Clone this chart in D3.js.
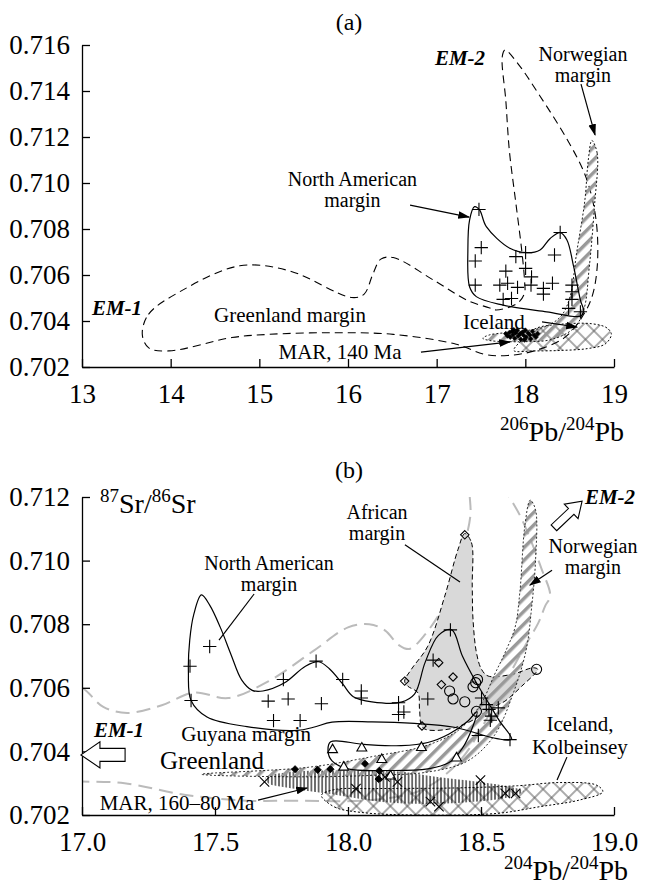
<!DOCTYPE html>
<html>
<head>
<meta charset="utf-8">
<script src="https://cdn.jsdelivr.net/npm/d3@7"></script>
<style>
  body { margin: 0; background: #fff; }
  svg { display: block; font-family: "Liberation Serif", "Times New Roman", serif; }
</style>
</head>
<body>
<div id="chart-area"></div>
<script>
// ---------- axes ----------
const xTicksA = [13, 14, 15, 16, 17, 18, 19]
const yTicksA = [0.702, 0.704, 0.706, 0.708, 0.710, 0.712, 0.714, 0.716]
const xTicksB = [17.0, 17.5, 18.0, 18.5, 19.0]
const yTicksB = [0.702, 0.704, 0.706, 0.708, 0.710, 0.712]

// ---------- panel (a): fields (206Pb/204Pb, 87Sr/86Sr) ----------
const greenlandFieldA = [
  [13.68, 0.70342], [13.75, 0.70429], [14.12, 0.70531], [14.78, 0.70640], [15.34, 0.70618],
  [16.04, 0.70502], [16.18, 0.70516], [16.28, 0.70603], [16.37, 0.70669], [16.51, 0.70676],
  [16.98, 0.70574], [17.36, 0.70487], [17.59, 0.70458], [17.67, 0.70448], [17.91, 0.70477],
  [17.99, 0.70520], [17.99, 0.70580], [17.96, 0.70705], [17.89, 0.70922], [17.82, 0.71140],
  [17.78, 0.71358], [17.74, 0.71550], [17.77, 0.71578], [17.92, 0.71517], [18.15, 0.71387],
  [18.48, 0.71184], [18.67, 0.71039], [18.76, 0.70922], [18.81, 0.70792], [18.81, 0.70632],
  [18.76, 0.70516], [18.67, 0.70436], [18.45, 0.70330], [18.10, 0.70270], [17.80, 0.70250],
  [17.54, 0.70255], [17.22, 0.70299], [16.51, 0.70342], [15.81, 0.70349], [15.11, 0.70342],
  [14.69, 0.70328], [13.98, 0.70270], [13.75, 0.70284]
]
const northAmericanFieldA = [
  [17.427, 0.70897], [17.485, 0.70882], [17.56, 0.70810], [17.825, 0.70716], [18.015, 0.70697],
  [18.166, 0.70709], [18.28, 0.70759], [18.393, 0.70784], [18.469, 0.70752], [18.545, 0.70636],
  [18.621, 0.70491], [18.659, 0.70440], [18.621, 0.70421], [18.242, 0.70440], [17.75, 0.70469],
  [17.447, 0.70506], [17.371, 0.70549], [17.352, 0.70709], [17.371, 0.70839]
]
const norwegianFieldA = [
  [18.75, 0.71185], [18.81, 0.71130], [18.78, 0.70900], [18.72, 0.70630], [18.66, 0.70450],
  [18.55, 0.70370], [18.30, 0.70320], [17.95, 0.70310], [17.60, 0.70315], [17.52, 0.70325],
  [17.60, 0.70340], [17.95, 0.70355], [18.22, 0.70375], [18.40, 0.70420], [18.50, 0.70500],
  [18.58, 0.70700], [18.67, 0.70920], [18.71, 0.71100]
]
const icelandFieldA = [
  [17.87, 0.70272], [18.00, 0.70330], [18.12, 0.70368], [18.40, 0.70386], [18.75, 0.70388],
  [18.92, 0.70370], [18.97, 0.70342], [18.90, 0.70300], [18.70, 0.70280], [18.40, 0.70272],
  [18.10, 0.70270]
]
const northAmericanPointsA = [
  [17.477, 0.70885], [17.503, 0.70719], [17.435, 0.70661], [17.435, 0.70556], [17.893, 0.70680],
  [17.78, 0.70617], [18.003, 0.70697], [18.003, 0.70629], [18.07, 0.70592], [17.712, 0.70556],
  [17.80, 0.70564], [17.912, 0.70546], [18.064, 0.70556], [18.204, 0.70542], [18.306, 0.70564],
  [18.204, 0.70517], [18.329, 0.70687], [18.393, 0.70785], [17.75, 0.70494], [17.844, 0.70498],
  [18.526, 0.70556], [18.526, 0.70527], [18.526, 0.70494], [18.488, 0.70455], [18.621, 0.70440]
]
const marPointsA = [
  [17.78, 0.70345], [17.80, 0.70335], [17.82, 0.70350], [17.83, 0.70330], [17.85, 0.70355],
  [17.86, 0.70340], [17.88, 0.70325], [17.89, 0.70348], [17.91, 0.70360], [17.92, 0.70335],
  [17.94, 0.70345], [17.95, 0.70320], [17.97, 0.70352], [17.98, 0.70338], [18.00, 0.70360],
  [18.01, 0.70330], [18.03, 0.70348], [18.05, 0.70340], [18.06, 0.70322], [18.08, 0.70355],
  [18.10, 0.70338], [18.12, 0.70330], [18.14, 0.70345], [17.87, 0.70362], [17.99, 0.70318]
]

// ---------- panel (b): fields ----------
const greenlandFieldB = [
  [16.90, 0.70620], [17.00, 0.70600], [17.08, 0.70540], [17.17, 0.70521], [17.30, 0.70545],
  [17.42, 0.70585], [17.55, 0.70568], [17.70, 0.70620], [17.87, 0.70716], [18.00, 0.70790],
  [18.08, 0.70800], [18.14, 0.70780], [18.19, 0.70735], [18.23, 0.70722], [18.29, 0.70768],
  [18.37, 0.70874], [18.43, 0.71030], [18.46, 0.71140], [18.46, 0.71250], [18.52, 0.71350],
  [18.58, 0.71240], [18.653, 0.71131], [18.728, 0.70973], [18.76, 0.70889], [18.741, 0.70857],
  [18.716, 0.70805], [18.665, 0.70731], [18.60, 0.70630], [18.52, 0.70500], [18.42, 0.70370],
  [18.28, 0.70280], [18.10, 0.70248], [17.78, 0.70245], [17.62, 0.70245], [17.39, 0.70263],
  [17.16, 0.70300], [17.00, 0.70305], [16.90, 0.70305]
]
const northAmericanFieldB = [
  [17.449, 0.70892], [17.48, 0.70860], [17.52, 0.70790], [17.56, 0.70705], [17.60, 0.70625],
  [17.64, 0.70592], [17.68, 0.70590], [17.76, 0.70615], [17.84, 0.70668], [17.89, 0.70682],
  [17.93, 0.70660], [17.98, 0.70612], [18.02, 0.70572], [18.09, 0.70556], [18.20, 0.70555],
  [18.25, 0.70580], [18.29, 0.70680], [18.34, 0.70765], [18.39, 0.70782], [18.43, 0.70700],
  [18.48, 0.70620], [18.53, 0.70550], [18.57, 0.70495], [18.615, 0.70438], [18.56, 0.70440],
  [18.40, 0.70476], [18.25, 0.70488], [18.09, 0.70493], [17.94, 0.70492], [17.87, 0.70476],
  [17.81, 0.70466], [17.62, 0.70478], [17.47, 0.70508], [17.41, 0.70560], [17.40, 0.70650],
  [17.405, 0.70750], [17.42, 0.70830]
]
const africanFieldB = [
  [18.439, 0.71085], [18.464, 0.71057], [18.467, 0.70920], [18.47, 0.70815], [18.483, 0.70710],
  [18.502, 0.70658], [18.527, 0.70637], [18.615, 0.70642], [18.697, 0.70663], [18.713, 0.70658],
  [18.653, 0.70605], [18.59, 0.70558], [18.552, 0.70542], [18.45, 0.70490], [18.363, 0.70468],
  [18.282, 0.70474], [18.269, 0.70531], [18.263, 0.70584], [18.225, 0.70605], [18.213, 0.70621],
  [18.238, 0.70658], [18.30, 0.70731], [18.364, 0.70889], [18.414, 0.71036]
]
const norwegianFieldB = [
  [18.685, 0.71190], [18.665, 0.71110], [18.646, 0.70900], [18.628, 0.70790], [18.59, 0.70710],
  [18.55, 0.70640], [18.50, 0.70550], [18.42, 0.70470], [18.30, 0.70420], [18.10, 0.70385],
  [17.85, 0.70350], [17.45, 0.70328], [17.85, 0.70320], [18.10, 0.70325], [18.30, 0.70335],
  [18.45, 0.70370], [18.55, 0.70450], [18.62, 0.70580], [18.67, 0.70720], [18.69, 0.70850],
  [18.705, 0.71000], [18.705, 0.71160]
]
const marFieldB = [
  [17.69, 0.70318], [17.78, 0.70335], [17.94, 0.70340], [18.17, 0.70338], [18.33, 0.70320],
  [18.48, 0.70305], [18.60, 0.70290], [18.66, 0.70275], [18.60, 0.70255], [18.45, 0.70240],
  [18.25, 0.70235], [18.09, 0.70245], [17.94, 0.70265], [17.78, 0.70285], [17.70, 0.70300]
]
const icelandFieldB = [
  [17.90, 0.70262], [17.95, 0.70225], [18.05, 0.70208], [18.25, 0.70200], [18.56, 0.70205],
  [18.72, 0.70226], [18.87, 0.70247], [18.958, 0.70273], [18.934, 0.70294], [18.794, 0.70302],
  [18.638, 0.70292], [18.40, 0.70285], [18.10, 0.70283], [17.95, 0.70280]
]
const guyanaFieldB = [
  [17.935, 0.70430], [18.06, 0.70422], [18.20, 0.70418], [18.30, 0.70428], [18.38, 0.70455],
  [18.45, 0.70495], [18.485, 0.70525], [18.47, 0.70480], [18.43, 0.70410], [18.38, 0.70365],
  [18.30, 0.70345], [18.15, 0.70340], [18.00, 0.70345], [17.94, 0.70370], [17.925, 0.70400]
]
const northAmericanPointsB = [
  [17.406, 0.70668], [17.48, 0.70730], [17.41, 0.70560], [17.70, 0.70558], [17.775, 0.70565],
  [17.90, 0.70550], [17.72, 0.70497], [17.82, 0.70497], [17.757, 0.70626], [17.88, 0.70684],
  [17.98, 0.70626], [18.05, 0.70590], [18.05, 0.70568], [18.19, 0.70553], [18.19, 0.70516],
  [18.21, 0.70524], [18.30, 0.70565], [18.32, 0.70687], [18.385, 0.70782], [18.502, 0.70568],
  [18.52, 0.70547], [18.53, 0.70532], [18.54, 0.70511], [18.535, 0.70498], [18.565, 0.70537],
  [18.49, 0.70450], [18.609, 0.70437]
]
const africanDiamondsB = [
  [18.439, 0.71081], [18.213, 0.70621], [18.341, 0.70679], [18.395, 0.70634], [18.351, 0.70610],
  [18.278, 0.70480]
]
const africanCirclesB = [
  [18.382, 0.70590], [18.395, 0.70565], [18.439, 0.70556], [18.47, 0.70603], [18.48, 0.70616],
  [18.487, 0.70626], [18.483, 0.70526], [18.709, 0.70658]
]
const guyanaTrianglesB = [
  [17.942, 0.70405], [18.052, 0.70410], [18.276, 0.70412], [18.127, 0.70374], [18.408, 0.70379],
  [17.984, 0.70350], [18.16, 0.70322]
]
const greenlandDotsB = [
  [17.801, 0.70344], [17.886, 0.70342], [17.934, 0.70344], [18.064, 0.70361], [18.118, 0.70339],
  [18.115, 0.70313]
]
const marCrossesB = [
  [17.686, 0.70304], [18.03, 0.70283], [18.139, 0.70320], [18.186, 0.70304], [18.31, 0.70242],
  [18.342, 0.70226], [18.498, 0.70310], [18.591, 0.70268], [18.63, 0.70268]
]

// ---------- setup ----------
const W = 646, H = 885
const FONT = "'Liberation Serif', 'Times New Roman', serif"
const svg = d3.select("#chart-area").append("svg").attr("width", W).attr("height", H)
  .attr("font-family", FONT)
svg.append("rect").attr("width", W).attr("height", H).attr("fill", "#fff")
const defs = svg.append("defs")

// hatching patterns
const stripes = defs.append("pattern").attr("id", "stripes").attr("patternUnits", "userSpaceOnUse")
  .attr("width", 9).attr("height", 9).attr("patternTransform", "rotate(45)")
stripes.append("rect").attr("width", 3.5).attr("height", 9).attr("fill", "#999")

const xhatch = defs.append("pattern").attr("id", "xhatch").attr("patternUnits", "userSpaceOnUse")
  .attr("width", 12).attr("height", 12).attr("patternTransform", "rotate(45)")
xhatch.append("path").attr("d", "M6,0V12M0,6H12").attr("stroke", "#555").attr("stroke-width", 1)

const vhatch = defs.append("pattern").attr("id", "vhatch").attr("patternUnits", "userSpaceOnUse")
  .attr("width", 3.6).attr("height", 40)
vhatch.append("path").attr("d", "M1.8,0V40").attr("stroke", "#000").attr("stroke-width", 1.1)

defs.append("marker").attr("id", "arrowhead").attr("viewBox", "0 0 10 10")
  .attr("refX", 9).attr("refY", 5).attr("markerWidth", 12).attr("markerHeight", 12)
  .attr("markerUnits", "userSpaceOnUse").attr("orient", "auto")
  .append("path").attr("d", "M0,1.8L10,5L0,8.2z").attr("fill", "#000")

// stroked symbol types, with fallbacks
const plusType = d3.symbolPlus || { draw(c, s) { const r = Math.sqrt(s) * 0.6; c.moveTo(-r, 0); c.lineTo(r, 0); c.moveTo(0, -r); c.lineTo(0, r) } }
const timesType = d3.symbolTimes || { draw(c, s) { const r = Math.sqrt(s) * 0.45; c.moveTo(-r, -r); c.lineTo(r, r); c.moveTo(-r, r); c.lineTo(r, -r) } }
const triType = d3.symbolTriangle2 || d3.symbolTriangle
const diaType = d3.symbolDiamond2 || d3.symbolDiamond

function makePanel(key, xDomain, yDomain, xRange, yRange) {
  const p = {}
  p.x = d3.scaleLinear().domain(xDomain).range(xRange)
  p.y = d3.scaleLinear().domain(yDomain).range(yRange)
  defs.append("clipPath").attr("id", "clip-" + key).append("rect")
    .attr("x", xRange[0]).attr("y", yRange[1])
    .attr("width", W - xRange[0]).attr("height", yRange[0] - yRange[1])
  p.g = svg.append("g")
  p.plot = p.g.append("g").attr("clip-path", `url(#clip-${key})`)
  p.line = d3.line().x(d => p.x(d[0])).y(d => p.y(d[1])).curve(d3.curveCatmullRomClosed.alpha(0.5))
  return p
}

function axes(p, xTicks, yTicks, xFmt) {
  const xa = p.g.append("g").attr("transform", `translate(0,${p.y.range()[0]})`)
    .call(d3.axisBottom(p.x).tickValues(xTicks).tickFormat(d3.format(xFmt))
      .tickSizeInner(-8).tickSizeOuter(0).tickPadding(17))
  const ya = p.g.append("g").attr("transform", `translate(${p.x.range()[0]},0)`)
    .call(d3.axisLeft(p.y).tickValues(yTicks).tickFormat(d3.format(".3f"))
      .tickSizeInner(-8).tickSizeOuter(0).tickPadding(12))
  ;[xa, ya].forEach(a => {
    a.attr("font-family", FONT).attr("font-size", 27)
    a.selectAll("path, line").attr("stroke", "#000").attr("stroke-width", 1.3)
    a.selectAll("text").attr("fill", "#000")
  })
}

function field(p, data, fill, stroke, width, dash) {
  p.plot.append("path").datum(data).attr("d", p.line)
    .attr("fill", fill).attr("stroke", stroke)
    .attr("stroke-width", width).attr("stroke-dasharray", dash)
}

function points(p, data, type, size, fill, sw) {
  p.plot.append("g").selectAll("path").data(data).join("path")
    .attr("transform", d => `translate(${p.x(d[0])},${p.y(d[1])})`)
    .attr("d", d3.symbol(type, size))
    .attr("fill", fill).attr("stroke", "#000").attr("stroke-width", sw || 1.1)
}

function label(p, pos, lines, size, step, style) {
  const t = p.g.append("text").attr("x", p.x(pos[0])).attr("y", p.y(pos[1]))
    .attr("font-size", size).attr("text-anchor", "middle").attr("fill", "#000")
  if (style === "em") t.attr("font-weight", "bold").attr("font-style", "italic")
  lines.forEach((s, i) => t.append("tspan").attr("x", p.x(pos[0])).attr("dy", i ? step : 0).text(s))
}

function pointer(p, from, to, head) {
  p.g.append("line")
    .attr("x1", p.x(from[0])).attr("y1", p.y(from[1]))
    .attr("x2", p.x(to[0])).attr("y2", p.y(to[1]))
    .attr("stroke", "#000").attr("stroke-width", 1.2)
    .attr("marker-end", head ? "url(#arrowhead)" : null)
}

// open block arrow from tail to tip
function blockArrow(p, tail, tip, shaftW, headW, headL) {
  const x0 = p.x(tail[0]), y0 = p.y(tail[1]), x1 = p.x(tip[0]), y1 = p.y(tip[1])
  const len = Math.hypot(x1 - x0, y1 - y0)
  const ux = (x1 - x0) / len, uy = (y1 - y0) / len, nx = -uy, ny = ux
  const bx = x1 - ux * headL, by = y1 - uy * headL
  const pts = [
    [x0 + nx * shaftW / 2, y0 + ny * shaftW / 2], [bx + nx * shaftW / 2, by + ny * shaftW / 2],
    [bx + nx * headW / 2, by + ny * headW / 2], [x1, y1],
    [bx - nx * headW / 2, by - ny * headW / 2], [bx - nx * shaftW / 2, by - ny * shaftW / 2],
    [x0 - nx * shaftW / 2, y0 - ny * shaftW / 2]
  ]
  p.g.append("path").attr("d", "M" + pts.join("L") + "Z")
    .attr("fill", "#fff").attr("stroke", "#000").attr("stroke-width", 1.1)
}

function isoTitle(g, x, y, parts, anchor) {
  const t = g.append("text").attr("x", x).attr("y", y).attr("text-anchor", anchor).attr("fill", "#000")
  parts.forEach(([s, sup]) => t.append("tspan").attr("font-size", sup ? 19 : 28).attr("dy", sup ? -11 : 11).text(s))
}

// ---------- panel (a) ----------
const pa = makePanel("a", [13, 19], [0.702, 0.716], [82, 614], [367, 45])

field(pa, icelandFieldA, "url(#xhatch)", "#000", 1, "2,2")
field(pa, greenlandFieldA, "none", "#000", 1.1, "8,5")
field(pa, norwegianFieldA, "url(#stripes)", "#000", 0.9, "2,2")
field(pa, northAmericanFieldA, "none", "#000", 1.2, null)
points(pa, northAmericanPointsA, plusType, 60, "none", 1.1)
points(pa, marPointsA, diaType, 14, "#000", 0.7)
axes(pa, xTicksA, yTicksA, "d")

svg.append("text").attr("x", 349).attr("y", 30).attr("text-anchor", "middle")
  .attr("font-size", 24).text("(a)")
isoTitle(svg, 624, 441, [["206", 1], ["Pb/", 0], ["204", 1], ["Pb", 0]], "end")

label(pa, [16.05, 0.70985], ["North American", "margin"], 20, 21)
pointer(pa, [16.70, 0.70904], [17.365, 0.70852], true)
label(pa, [18.65, 0.71530], ["Norwegian", "margin"], 20, 21)
pointer(pa, [18.628, 0.71430], [18.786, 0.71209], true)
label(pa, [17.263, 0.71513], ["EM-2"], 21, 0, "em")
label(pa, [13.395, 0.70426], ["EM-1"], 21, 0, "em")
label(pa, [15.346, 0.70396], ["Greenland margin"], 21, 0)
label(pa, [17.646, 0.70365], ["Iceland"], 21, 0)
pointer(pa, [18.188, 0.70396], [18.583, 0.70374], true)
label(pa, [15.91, 0.70235], ["MAR, 140 Ma"], 21, 0)
pointer(pa, [16.823, 0.70265], [17.827, 0.70309], true)

// ---------- panel (b) ----------
const pb = makePanel("b", [17, 19], [0.702, 0.712], [82, 614], [815, 497])

field(pb, greenlandFieldB, "none", "#bbb", 2, "14,7")
field(pb, africanFieldB, "#d9d9d9", "#000", 1, "5,3")
field(pb, icelandFieldB, "url(#xhatch)", "#000", 1, "2,2")
field(pb, marFieldB, "url(#vhatch)", "none", 0, null)
field(pb, norwegianFieldB, "url(#stripes)", "#000", 0.8, "2,2")
field(pb, northAmericanFieldB, "none", "#000", 1.2, null)
field(pb, guyanaFieldB, "none", "#000", 1.2, null)
points(pb, northAmericanPointsB, plusType, 60, "none", 1.1)
points(pb, africanDiamondsB, diaType, 45, "none", 1.1)
points(pb, africanCirclesB, d3.symbolCircle, 80, "none", 1.1)
points(pb, guyanaTrianglesB, triType, 70, "#fff", 1.1)
points(pb, greenlandDotsB, diaType, 32, "#000", 1)
points(pb, marCrossesB, timesType, 60, "none", 1.1)
axes(pb, xTicksB, yTicksB, ".1f")

svg.append("text").attr("x", 349).attr("y", 478).attr("text-anchor", "middle")
  .attr("font-size", 24).text("(b)")
isoTitle(svg, 100, 513, [["87", 1], ["Sr/", 0], ["86", 1], ["Sr", 0]], "start")
isoTitle(svg, 628, 880, [["204", 1], ["Pb/", 0], ["204", 1], ["Pb", 0]], "end")

label(pb, [18.109, 0.71130], ["African", "margin"], 20, 21)
pointer(pb, [18.214, 0.71050], [18.421, 0.70933], false)
label(pb, [17.703, 0.70970], ["North American", "margin"], 20, 21)
pointer(pb, [17.647, 0.70895], [17.515, 0.70750], false)
label(pb, [18.921, 0.71025], ["Norwegian", "margin"], 20, 21)
pointer(pb, [18.767, 0.70970], [18.684, 0.70923], true)
label(pb, [18.985, 0.71178], ["EM-2"], 21, 0, "em")
blockArrow(pb, [18.774, 0.71103], [18.88, 0.71187], 8, 20, 15)
label(pb, [17.139, 0.70445], ["EM-1"], 21, 0, "em")
blockArrow(pb, [17.162, 0.70389], [16.996, 0.70389], 13, 26, 19)
label(pb, [17.617, 0.70432], ["Guyana margin"], 21, 0)
label(pb, [17.489, 0.70345], ["Greenland"], 25, 0)
label(pb, [18.872, 0.70465], ["Iceland,", "Kolbeinsey"], 21, 23)
pointer(pb, [18.823, 0.70382], [18.786, 0.70310], false)
label(pb, [17.357, 0.70217], ["MAR, 160\u201380 Ma"], 21, 0)
pointer(pb, [17.662, 0.70247], [17.846, 0.70285], true)
</script>
</body>
</html>
